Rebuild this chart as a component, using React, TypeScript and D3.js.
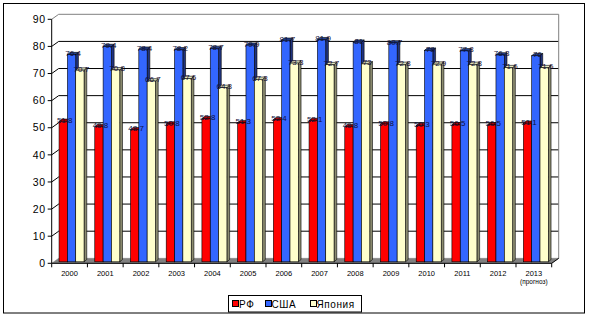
import React from "react";
import * as d3 from "d3";

const years = ["2000","2001","2002","2003","2004","2005","2006","2007","2008","2009","2010","2011","2012","2013"];
const seriesNames = ["РФ", "США", "Япония"];
const rf = [51.8, 49.8, 48.7, 50.8, 52.8, 51.3, 52.4, 52.1, 49.8, 50.8, 50.3, 50.5, 50.5, 51.1];
const usa = [76.4, 79.4, 78.4, 78.2, 78.7, 79.9, 81.7, 81.9, 81, 80.7, 78, 77.8, 76.3, 76];
const japan = [70.7, 70.8, 66.7, 67.6, 64.3, 67.3, 73.3, 72.7, 73, 72.8, 72.9, 72.8, 71.6, 71.6];
const yTicks = [0, 10, 20, 30, 40, 50, 60, 70, 80, 90];

const fronts = ["#FF0000", "#3366FF", "#FFFFCC"];
const sides = ["#800000", "#1F3380", "#8C8C70"];
const tops = ["#B00000", "#24418F", "#E8E8C0"];

export default function App() {
  const W = 591, H = 318;
  const x0 = 51.7, x1 = 551.7;
  const y = d3.scaleLinear().domain([0, 90]).range([263.3, 19.3]);
  const xb = d3.scaleBand<string>().domain(years).range([x0, x1]).padding(0);
  const bw = xb.bandwidth();
  const gw = bw * 0.7;
  const xs = d3.scaleBand<number>().domain([0, 1, 2]).range([0, gw]).padding(0);
  const DX = 7, DY = -5;
  const ox = 2, oy = -1.5;
  const sdx = 2.7, sdy = -2.3;
  const data = [rf, usa, japan];

  const bars: React.ReactNode[] = [];
  const labels: React.ReactNode[] = [];
  years.forEach((yr, i) => {
    const gx = (xb(yr) as number) + bw / 2 - gw / 2 + ox;
    data.forEach((s, k) => {
      const v = s[i];
      const bx = gx + (xs(k) as number);
      const w = xs.bandwidth();
      const top = y(v) + oy;
      const bot = y(0) + oy;
      bars.push(
        <g key={yr + k}>
          <polygon
            points={`${bx + w},${top} ${bx + w + sdx},${top + sdy} ${bx + w + sdx},${bot + sdy} ${bx + w},${bot}`}
            fill={sides[k]} stroke="#000" strokeWidth={0.6} />
          <polygon
            points={`${bx},${top} ${bx + sdx},${top + sdy} ${bx + w + sdx},${top + sdy} ${bx + w},${top}`}
            fill={tops[k]} stroke="#000" strokeWidth={0.6} />
          <rect x={bx} y={top} width={w} height={bot - top} fill={fronts[k]} stroke="#000" strokeWidth={0.6} />
        </g>
      );
      labels.push(
        <text key={"l" + yr + k} x={bx + w / 2 + 1.5} y={top + 1.5} fontSize={8} textAnchor="middle"
          fontFamily="Liberation Sans, Arial, sans-serif" fill="#10103a">
          {String(v)}
        </text>
      );
    });
  });

  const legendItems = [
    { name: seriesNames[0], sx: 232, tx: 239 },
    { name: seriesNames[1], sx: 265, tx: 271.5 },
    { name: seriesNames[2], sx: 310, tx: 316.5 },
  ];

  return (
    <svg width={W} height={H} style={{ position: "absolute", left: 0, top: 0 }}
      fontFamily="Liberation Sans, Arial, sans-serif">
      <rect x={0} y={0} width={W} height={H} fill="#fff" />
      <rect x={3.5} y={3.5} width={581} height={309.5} fill="#fff" stroke="#000" strokeWidth={1} />
      {/* back wall */}
      <rect x={x0 + DX} y={y(90) + DY} width={x1 - x0} height={y(0) - y(90)} fill="#fff" />
      {/* gridlines */}
      {yTicks.filter(t => t > 0 && t < 90).map(t => (
        <g key={"g" + t}>
          <line x1={x0} y1={y(t)} x2={x0 + DX} y2={y(t) + DY} stroke="#000" strokeWidth={1} />
          <line x1={x0 + DX} y1={y(t) + DY} x2={x1 + DX} y2={y(t) + DY} stroke="#000" strokeWidth={1} />
        </g>
      ))}
      {/* wall edges */}
      <line x1={x0} y1={y(90)} x2={x0 + DX} y2={y(90) + DY} stroke="#808080" strokeWidth={1} />
      <line x1={x0 + DX} y1={y(90) + DY} x2={x1 + DX} y2={y(90) + DY} stroke="#808080" strokeWidth={1} />
      <line x1={x1 + DX} y1={y(90) + DY} x2={x1 + DX} y2={y(0) + DY} stroke="#808080" strokeWidth={1} />
      {/* floor */}
      <polygon points={`${x0},${y(0)} ${x0 + DX},${y(0) + DY} ${x1 + DX},${y(0) + DY} ${x1},${y(0)}`}
        fill="#808080" stroke="#808080" strokeWidth={0.5} />
      <line x1={x1} y1={y(0)} x2={x1 + DX} y2={y(0) + DY} stroke="#000" strokeWidth={1} />
      {/* y axis */}
      <line x1={x0} y1={y(90)} x2={x0} y2={y(0)} stroke="#000" strokeWidth={1} />
      {yTicks.map(t => (
        <g key={"t" + t}>
          <line x1={x0 - 4} y1={y(t)} x2={x0} y2={y(t)} stroke="#000" strokeWidth={1} />
          <text x={46} y={y(t)} dy="0.35em" fontSize={10.5} textAnchor="end" letterSpacing={0.8} fill="#000">{t}</text>
        </g>
      ))}
      {/* x axis */}
      <line x1={x0} y1={y(0)} x2={x1} y2={y(0)} stroke="#000" strokeWidth={1} />
      {years.map((yr, i) => (
        <line key={"xt" + yr} x1={xb(yr) as number} y1={y(0)} x2={xb(yr) as number} y2={y(0) + 4} stroke="#000" strokeWidth={1} />
      ))}
      <line x1={x1} y1={y(0)} x2={x1} y2={y(0) + 4} stroke="#000" strokeWidth={1} />
      {years.map(yr => (
        <text key={"xl" + yr} x={(xb(yr) as number) + bw / 2} y={275.5} fontSize={7.5} textAnchor="middle" fill="#000">{yr}</text>
      ))}
      <text x={(xb("2013") as number) + bw / 2} y={284} fontSize={6.5} textAnchor="middle" fill="#000">(прогноз)</text>
      {bars}
      {labels}
      {/* legend */}
      <rect x={228.5} y={295.5} width={133} height={16.5} fill="#fff" stroke="#000" strokeWidth={1} />
      {legendItems.map((it, k) => (
        <g key={"lg" + k}>
          <rect x={it.sx + 0.5} y={300.5} width={6} height={6} fill={fronts[k]} stroke="#000" strokeWidth={1} />
          <text x={it.tx} y={304} dy="0.35em" fontSize={10} fill="#000" letterSpacing={0.6}>{it.name}</text>
        </g>
      ))}
    </svg>
  );
}
